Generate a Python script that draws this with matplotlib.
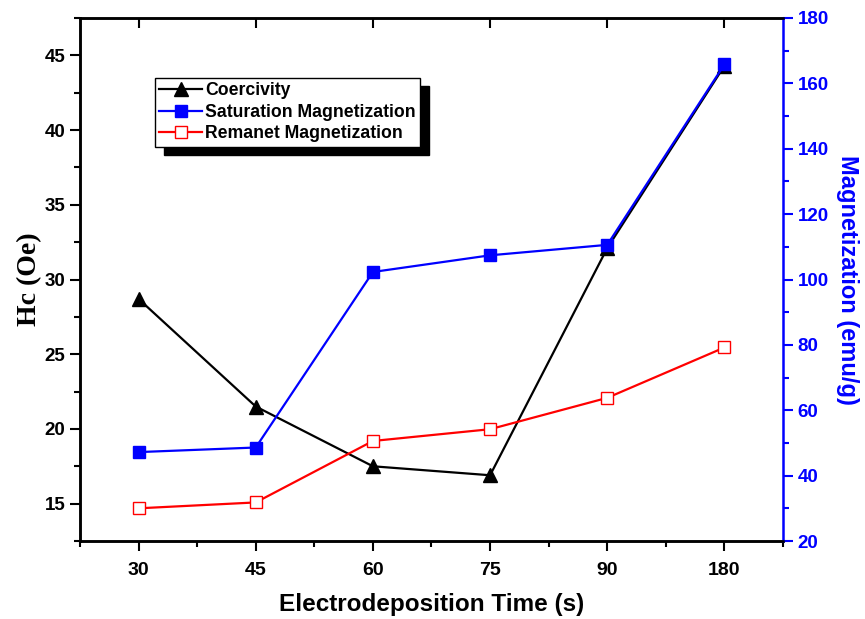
import matplotlib
matplotlib.use("Agg")
import matplotlib.pyplot as plt
from matplotlib.patches import Rectangle
from matplotlib.ticker import AutoMinorLocator, MultipleLocator
from matplotlib import font_manager

categories = ["30", "45", "60", "75", "90", "180"]
coercivity = [28.7, 21.5, 17.5, 16.9, 32.1, 44.3]
saturation = [47.2, 48.6, 102.3, 107.4, 110.6, 165.8]
remanent = [30.0, 31.8, 50.6, 54.2, 63.8, 79.2]

names = {f.name for f in font_manager.fontManager.ttflist}
narrow = "Liberation Sans Narrow" if "Liberation Sans Narrow" in names else "Liberation Sans"

fig = plt.figure(figsize=(8.65, 6.19), dpi=100)
ax = fig.add_axes([80/865, 1-541/619, (783-80)/865, (541-18)/619])
ax2 = ax.twinx()

x = list(range(len(categories)))
l1, = ax.plot(x, coercivity, color="black", lw=1.6, marker="^", ms=10,
              label="Coercivity", zorder=3)
l2, = ax2.plot(x, saturation, color="#0000ff", lw=1.6, marker="s", ms=9,
               label="Saturation Magnetization", zorder=4)
l3, = ax2.plot(x, remanent, color="#ff0000", lw=1.6, marker="s", ms=9,
               mfc="white", mec="#ff0000", mew=1.0,
               label="Remanet Magnetization", zorder=3)

ax.set_xlim(-0.5, 5.5)
ax.set_ylim(12.5, 47.5)
ax2.set_ylim(20, 180)

ax.set_xticks(x)
ax.set_xticklabels(categories)
ax.set_xticks([i + 0.5 for i in range(-1, 6)], minor=True)
ax.yaxis.set_major_locator(MultipleLocator(5))
ax.yaxis.set_minor_locator(AutoMinorLocator(2))
ax2.yaxis.set_major_locator(MultipleLocator(20))
ax2.yaxis.set_minor_locator(AutoMinorLocator(2))

for lab in ax.get_xticklabels():
    lab.set_fontfamily(narrow)
    lab.set_fontweight("bold")
    lab.set_fontsize(14)
for lab in ax.get_yticklabels():
    lab.set_fontfamily("Liberation Sans")
    lab.set_fontweight("bold")
    lab.set_fontsize(13.5)
for lab in ax2.get_yticklabels():
    lab.set_fontfamily("Liberation Sans")
    lab.set_fontweight("bold")
    lab.set_fontsize(13.5)
    lab.set_color("#0000ff")

ax.tick_params(axis="x", which="major", direction="out", length=7, width=1.5, pad=8)
ax.tick_params(axis="x", which="minor", direction="out", length=4, width=1.5)
ax.tick_params(axis="y", which="both", direction="out", width=1.5)
ax.tick_params(axis="y", which="major", length=7)
ax.tick_params(axis="y", which="minor", length=4)
ax2.tick_params(axis="y", which="both", direction="out", width=1.5, color="#0000ff")
ax2.tick_params(axis="y", which="major", length=7)
ax2.tick_params(axis="y", which="minor", length=4)

# top major ticks pointing inward
ax.xaxis.set_tick_params(which="major", top=True)
for t in ax.xaxis.get_major_ticks():
    t.tick2line.set_marker(3)

for sp in ["left", "bottom", "top"]:
    ax.spines[sp].set_linewidth(1.8)
    ax2.spines[sp].set_linewidth(1.8)
ax2.spines["right"].set_linewidth(1.8)
ax2.spines["right"].set_color("#0000ff")
ax.spines["right"].set_visible(False)

ax.set_xlabel("Electrodeposition Time (s)", fontfamily=narrow, fontweight="bold",
              fontsize=17.5, labelpad=10)
ax.set_ylabel("Hc (Oe)", fontfamily="Liberation Serif", fontweight="bold",
              fontsize=20, labelpad=2)
ax2.set_ylabel("Magnetization (emu/g)", fontfamily="Liberation Sans", fontweight="bold",
               fontsize=17, color="#0000ff", rotation=270, labelpad=22)

leg = ax2.legend(handles=[l1, l2, l3], loc="upper left",
                 bbox_to_anchor=(155/865, 1-78/619), bbox_transform=fig.transFigure,
                 borderaxespad=0, fancybox=False, framealpha=1, edgecolor="black",
                 prop={"family": "Liberation Sans", "weight": "bold", "size": 12.7},
                 handlelength=2.4, handletextpad=0.2, labelspacing=0.25,
                 borderpad=0.25)
leg.get_frame().set_linewidth(1.0)
leg.set_zorder(10)

fig.canvas.draw()
bb = leg.get_window_extent()
shadow = Rectangle((bb.x0 + 9, bb.y0 - 8), bb.width, bb.height, transform=None,
                   facecolor="black", edgecolor="black", zorder=9)
ax2.add_artist(shadow)

fig.savefig("out.png", dpi=100)
